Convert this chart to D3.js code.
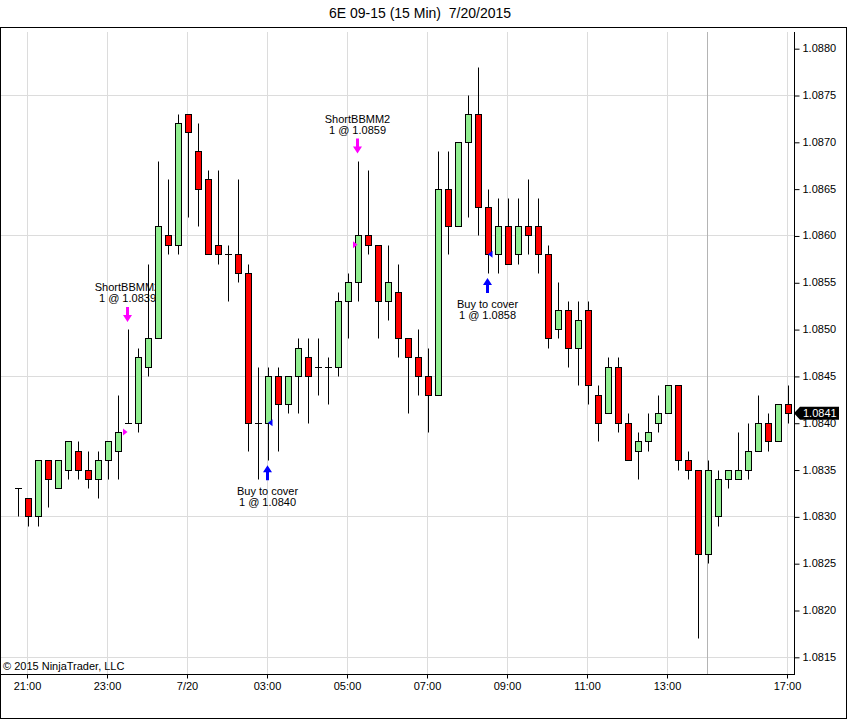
<!DOCTYPE html>
<html>
<head>
<meta charset="utf-8">
<script src="https://cdn.jsdelivr.net/npm/d3@7"></script>
<style>
  body { margin: 0; background: #fff; }
  svg { display: block; font-family: "Liberation Sans", Arial, sans-serif; }
</style>
</head>
<body>
<div id="chart"></div>
<script>
// 15 min bars, 6E 09-15, 7/20/2015 (session break before 15:00)
const times = [
  "20:45","21:00","21:15","21:30","21:45","22:00","22:15","22:30","22:45","23:00","23:15","23:30","23:45",
  "00:00","00:15","00:30","00:45","01:00","01:15","01:30","01:45","02:00","02:15","02:30","02:45",
  "03:00","03:15","03:30","03:45","04:00","04:15","04:30","04:45","05:00","05:15","05:30","05:45",
  "06:00","06:15","06:30","06:45","07:00","07:15","07:30","07:45","08:00","08:15","08:30","08:45",
  "09:00","09:15","09:30","09:45","10:00","10:15","10:30","10:45","11:00","11:15","11:30","11:45",
  "12:00","12:15","12:30","12:45","13:00","13:15","13:30","13:45",
  "15:00","15:15","15:30","15:45","16:00","16:15","16:30","16:45","17:00"
];
const open = [
  1.0833,1.0832,1.0830,1.0836,1.0833,1.0835,1.0837,1.0835,1.0834,1.0836,1.0837,1.0840,1.0840,
  1.0846,1.0849,1.0860,1.0859,1.0873,1.0869,1.0866,1.0859,1.0858,1.0858,1.0856,1.0840,
  1.0840,1.0845,1.0842,1.0845,1.0847,1.0846,1.0846,1.0846,1.0853,1.0855,1.0860,1.0859,
  1.0853,1.0854,1.0849,1.0847,1.0845,1.0843,1.0865,1.0861,1.0870,1.0873,1.0863,1.0858,
  1.0861,1.0858,1.0861,1.0861,1.0858,1.0850,1.0852,1.0848,1.0852,1.0843,1.0841,1.0846,
  1.0840,1.0837,1.0838,1.0840,1.0841,1.0844,1.0836,1.0835,
  1.0826,1.0830,1.0834,1.0834,1.0835,1.0837,1.0840,1.0838,1.0842
];
const high = [
  1.0833,1.0832,1.0836,1.0836,1.0836,1.0838,1.0838,1.0837,1.0837,1.0838,1.0843,1.0850,1.0848,
  1.0857,1.0868,1.0866,1.0873,1.0873,1.0872,1.0867,1.0867,1.0859,1.0866,1.0857,1.0846,
  1.0846,1.0846,1.0845,1.0849,1.0849,1.0849,1.0847,1.0854,1.0856,1.0868,1.0867,1.0859,
  1.0859,1.0857,1.0849,1.0850,1.0848,1.0869,1.0869,1.0870,1.0875,1.0878,1.0865,1.0864,
  1.0864,1.0864,1.0866,1.0864,1.0859,1.0855,1.0853,1.0853,1.0853,1.0844,1.0847,1.0847,
  1.0841,1.0839,1.0841,1.0843,1.0844,1.0844,1.0837,1.0835,
  1.0836,1.0835,1.0835,1.0839,1.0840,1.0843,1.0841,1.0842,1.0844
];
const low = [
  1.0830,1.0829,1.0829,1.0831,1.0833,1.0834,1.0834,1.0833,1.0832,1.0834,1.0834,1.0840,1.0839,
  1.0845,1.0849,1.0858,1.0858,1.0862,1.0861,1.0858,1.0857,1.0853,1.0855,1.0837,1.0834,
  1.0836,1.0837,1.0841,1.0841,1.0840,1.0843,1.0842,1.0845,1.0849,1.0853,1.0858,1.0849,
  1.0851,1.0847,1.0841,1.0843,1.0839,1.0843,1.0858,1.0861,1.0862,1.0860,1.0856,1.0856,
  1.0857,1.0857,1.0858,1.0856,1.0848,1.0849,1.0846,1.0844,1.0842,1.0838,1.0841,1.0839,
  1.0836,1.0834,1.0837,1.0839,1.0841,1.0835,1.0834,1.0817,
  1.0825,1.0829,1.0833,1.0834,1.0834,1.0837,1.0837,1.0838,1.0840
];
const close = [
  1.0833,1.0830,1.0836,1.0834,1.0836,1.0838,1.0835,1.0834,1.0836,1.0838,1.0839,1.0840,1.0847,
  1.0849,1.0861,1.0859,1.0872,1.0871,1.0865,1.0858,1.0858,1.0858,1.0856,1.0840,1.0840,
  1.0845,1.0842,1.0845,1.0848,1.0845,1.0846,1.0846,1.0853,1.0855,1.0860,1.0859,1.0853,
  1.0855,1.0849,1.0847,1.0845,1.0843,1.0865,1.0861,1.0870,1.0873,1.0863,1.0858,1.0861,
  1.0857,1.0861,1.0860,1.0858,1.0849,1.0852,1.0848,1.0851,1.0844,1.0840,1.0846,1.0840,
  1.0836,1.0838,1.0839,1.0841,1.0844,1.0836,1.0835,1.0826,
  1.0835,1.0834,1.0835,1.0835,1.0837,1.0840,1.0838,1.0842,1.0841
];

const tickTimes = ["21:00","23:00","01:00","03:00","05:00","07:00","09:00","11:00","13:00","17:00"];
const tickLabels = ["21:00","23:00","7/20","03:00","05:00","07:00","09:00","11:00","13:00","17:00"];
const priceTicks = [1.0815,1.0820,1.0825,1.0830,1.0835,1.0840,1.0845,1.0850,1.0855,1.0860,1.0865,1.0870,1.0875,1.0880];
const gridPrices = [1.0815,1.0830,1.0845,1.0860,1.0875];
const sessionBreak = "15:00";

// executions
const execTimes = ["23:30","05:15","03:00","08:30"];
const execPrices = [1.0839,1.0859,1.0840,1.0858];
const execNames = ["ShortBBMM2","ShortBBMM2","Buy to cover","Buy to cover"];
const execSides = ["short","short","cover","cover"];

const W = 848, H = 720;
const plotTop = 32, plotBottom = 674, axisX = 794;

const svg = d3.select("#chart").append("svg")
    .attr("width", W)
    .attr("height", H);

const x = d3.scaleBand()
    .domain(times)
    .range([12.5, 792.5]);

const y = d3.scaleLinear()
    .domain([1.0820, 1.0875])
    .range([610, 95]);

const cx = t => x(t) + x.bandwidth() / 2;
const py = p => Math.round(y(p)) + 0.5;

// title
svg.append("text")
    .attr("x", 420)
    .attr("y", 18)
    .attr("text-anchor", "middle")
    .style("font-size", "14px")
    .style("white-space", "pre")
    .text("6E 09-15 (15 Min)  7/20/2015");

// frame
svg.append("rect")
    .attr("x", 0.5).attr("y", 27.5)
    .attr("width", 846).attr("height", 691)
    .attr("fill", "none")
    .attr("stroke", "#000");

// grid
svg.append("g").selectAll("line")
    .data(gridPrices)
    .join("line")
    .attr("x1", 1).attr("x2", axisX)
    .attr("y1", d => py(d)).attr("y2", d => py(d))
    .attr("stroke", "#dcdcdc");

svg.append("g").selectAll("line")
    .data(tickTimes)
    .join("line")
    .attr("x1", d => cx(d)).attr("x2", d => cx(d))
    .attr("y1", plotTop).attr("y2", plotBottom)
    .attr("stroke", "#dcdcdc");

svg.append("line")
    .attr("x1", cx(sessionBreak)).attr("x2", cx(sessionBreak))
    .attr("y1", plotTop).attr("y2", plotBottom)
    .attr("stroke", "#b4b4b4");

// execution labels and arrows (drawn under the bars)
const ann = svg.append("g").style("font-size", "11px").attr("text-anchor", "middle");
execTimes.forEach((t, i) => {
  const j = times.indexOf(t);
  const xc = cx(t);
  const col = execSides[i] === "short" ? "#ff00ff" : "#0000ff";
  const lbl = "1 @ " + d3.format(".4f")(execPrices[i]);
  if (execSides[i] === "short") {
    const tip = y(high[j]) - 7;
    ann.append("path")
      .attr("d", `M${xc - 1.5},${tip - 15}h3v8h3l-4.5,7l-4.5,-7h3z`)
      .attr("fill", col);
    ann.append("text").attr("x", xc).attr("y", tip - 20).text(lbl);
    ann.append("text").attr("x", xc).attr("y", tip - 31).text(execNames[i]);
  } else {
    const tip = y(low[j]) + 6;
    ann.append("path")
      .attr("d", `M${xc - 1.5},${tip + 14}h3v-8h3l-4.5,-7l-4.5,7h3z`)
      .attr("fill", col);
    ann.append("text").attr("x", xc).attr("y", tip + 29).text(execNames[i]);
    ann.append("text").attr("x", xc).attr("y", tip + 40).text(lbl);
  }
});

// candles
const bars = svg.append("g");
times.forEach((t, i) => {
  const xc = Math.round(cx(t)) + 0.5;
  bars.append("line")
    .attr("x1", xc).attr("x2", xc)
    .attr("y1", py(high[i])).attr("y2", py(low[i]))
    .attr("stroke", "#000");
  const top = py(Math.max(open[i], close[i]));
  const bot = py(Math.min(open[i], close[i]));
  if (bot - top < 1) {
    bars.append("line")
      .attr("x1", xc - 3.5).attr("x2", xc + 3.5)
      .attr("y1", top).attr("y2", top)
      .attr("stroke", "#000");
  } else {
    bars.append("rect")
      .attr("x", xc - 3).attr("y", top)
      .attr("width", 6).attr("height", bot - top)
      .attr("fill", close[i] >= open[i] ? "#90ee90" : "#ff0000")
      .attr("stroke", "#000");
  }
});

// execution triangles
execTimes.forEach((t, i) => {
  const xc = cx(t);
  const yy = y(execPrices[i]);
  const d = execSides[i] === "short"
    ? `M${xc - 4.5},${yy - 3.5}L${xc},${yy}L${xc - 4.5},${yy + 3.5}Z`
    : `M${xc + 5},${yy - 3.5}L${xc + 0.5},${yy}L${xc + 5},${yy + 3.5}Z`;
  svg.append("path").attr("d", d)
    .attr("fill", execSides[i] === "short" ? "#ff00ff" : "#0000ff");
});

// axes
const yAxis = svg.append("g")
    .attr("transform", `translate(${axisX + 0.5},0)`)
    .call(d3.axisRight(y).tickValues(priceTicks).tickFormat(d3.format(".4f")).tickSize(5).tickPadding(3));
yAxis.select(".domain").remove();
yAxis.selectAll("text").style("font-size", "11px").attr("font-family", null);
yAxis.selectAll(".tick line").attr("transform", "translate(0,0.5)");

svg.append("line")
    .attr("x1", axisX + 0.5).attr("x2", axisX + 0.5)
    .attr("y1", plotTop).attr("y2", plotBottom)
    .attr("stroke", "#000");

const xAxis = svg.append("g")
    .attr("transform", `translate(0,${plotBottom + 0.5})`)
    .call(d3.axisBottom(x).tickValues(tickTimes).tickFormat((d, i) => tickLabels[i]).tickSize(4).tickPadding(4));
xAxis.select(".domain").remove();
xAxis.selectAll("text").style("font-size", "11px").attr("font-family", null);

svg.append("line")
    .attr("x1", 1).attr("x2", axisX + 1)
    .attr("y1", plotBottom + 0.5).attr("y2", plotBottom + 0.5)
    .attr("stroke", "#000");

// last price marker
const lastY = y(close[close.length - 1]);
svg.append("path")
    .attr("d", `M${axisX},${lastY}L${axisX + 6},${lastY - 6.5}H${axisX + 45}V${lastY + 6.5}H${axisX + 6}Z`)
    .attr("fill", "#000");
svg.append("text")
    .attr("x", axisX + 9)
    .attr("y", lastY + 4)
    .attr("fill", "#fff")
    .style("font-size", "11px")
    .text(d3.format(".4f")(close[close.length - 1]));

// copyright
svg.append("text")
    .attr("x", 3)
    .attr("y", 670)
    .style("font-size", "11px")
    .text("© 2015 NinjaTrader, LLC");
</script>
</body>
</html>
